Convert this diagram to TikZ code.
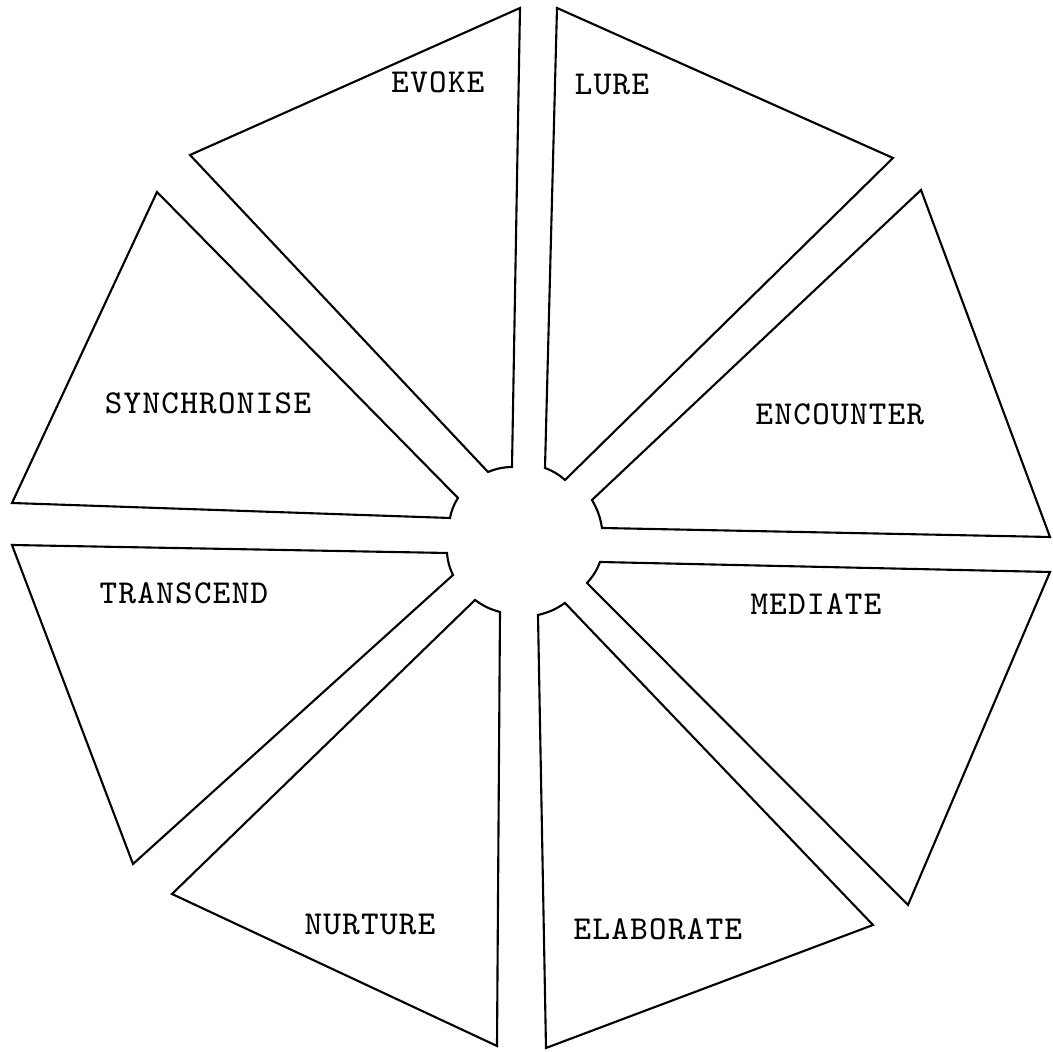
\documentclass[tikz,border=0pt]{standalone}
\usepackage{fontspec}
\newfontfamily\typew[LetterSpace=4]{Latin Modern Mono}
\begin{document}
\begin{tikzpicture}[x=0.01cm,y=-0.01cm,
  sector/.style={draw=black,line width=0.6pt,line join=miter},
  lbl/.style={font=\typew\fontsize{9.5}{11}\selectfont,inner sep=0pt}]
\useasboundingbox (0,0) rectangle (1053,1052);
% EVOKE
\draw[sector] (488,472) to[bend left=10] (512,467) -- (520,8) -- (190,155) -- cycle;
% LURE
\draw[sector] (545,468) to[bend left=10] (565,480) -- (893,158) -- (557,8) -- cycle;
% ENCOUNTER
\draw[sector] (592,500) to[bend left=10] (602,528) -- (1050,537) -- (921,190) -- cycle;
% MEDIATE
\draw[sector] (600,562) to[bend left=10] (587,583) -- (908,905) -- (1050,572) -- cycle;
% ELABORATE
\draw[sector] (565,603) to[bend left=10] (538,615) -- (546,1048) -- (873,925) -- cycle;
% NURTURE
\draw[sector] (500,612) to[bend left=10] (475,600) -- (172,894) -- (497,1046) -- cycle;
% TRANSCEND
\draw[sector] (453,575) to[bend left=10] (447,553) -- (12,545) -- (133,864) -- cycle;
% SYNCHRONISE
\draw[sector] (450,518) to[bend left=10] (458,498) -- (157,192) -- (12,503) -- cycle;
% labels
\node[lbl] (evoke) at (438,82) {EVOKE};
\node[lbl] (lure) at (612,84) {LURE};
\node[lbl] (encounter) at (840,414) {ENCOUNTER};
\node[lbl] (mediate) at (816,604) {MEDIATE};
\node[lbl] (elaborate) at (658,929) {ELABORATE};
\node[lbl] (nurture) at (370,924) {NURTURE};
\node[lbl] (transcend) at (184,593) {TRANSCEND};
\node[lbl] (synchronise) at (208,403) {SYNCHRONISE};
\end{tikzpicture}
\end{document}
